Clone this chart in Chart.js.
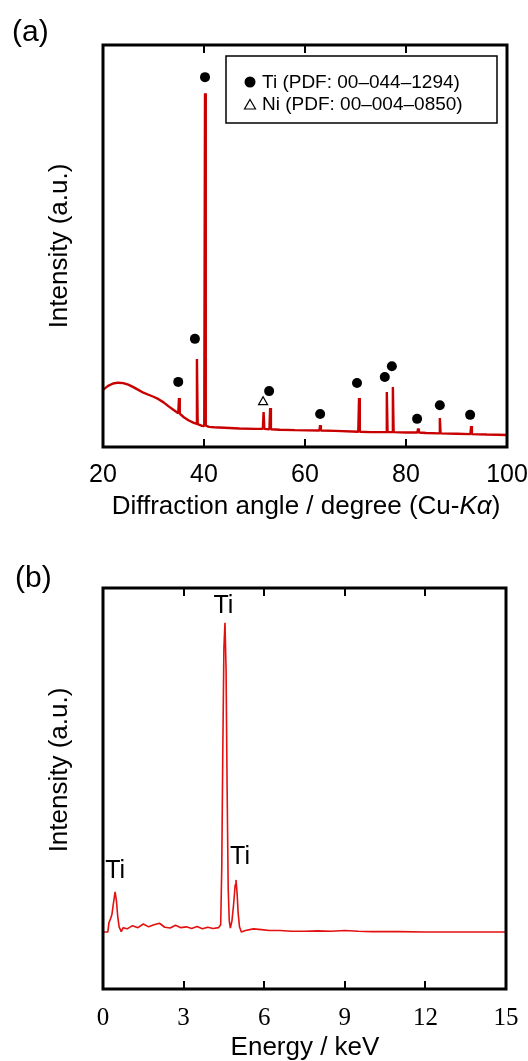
<!DOCTYPE html>
<html>
<head>
<meta charset="utf-8">
<script src="https://cdn.jsdelivr.net/npm/chart.js@4.4.0/dist/chart.umd.min.js"></script>
<style>
    html, body { margin: 0; padding: 0; background: #fff; }
    #wrap { position: relative; width: 528px; height: 1061px; }
    canvas { position: absolute; left: 0; }
    #xrd { top: 0; }
    #eds { top: 540px; }
</style>
</head>
<body>
<div id="wrap">
    <canvas id="xrd" width="528" height="540"></canvas>
    <canvas id="eds" width="528" height="521"></canvas>
</div>
<script>
// (a) XRD 数据
const xrdAngle = [20.0, 21.0, 22.0, 23.0, 24.0, 25.0, 26.0, 27.0, 28.0, 29.0, 30.0, 31.0, 32.0, 33.0, 34.0,
    34.9, 35.05, 35.2, 36.0, 37.0, 38.0, 38.45, 38.6, 38.75, 39.5, 40.05, 40.2, 40.35, 41.0, 42.0, 44.0,
    47.0, 50.0, 51.65, 51.8, 51.95, 52.95, 53.1, 53.25, 55.0, 58.0, 62.85, 63.0, 63.15, 66.0, 70.55, 70.7,
    70.85, 73.0, 76.05, 76.2, 76.35, 77.25, 77.4, 77.55, 80.0, 82.25, 82.4, 82.55, 84.0, 86.55, 86.7, 86.85,
    90.0, 92.75, 92.9, 93.05, 96.0, 100.0];
const xrdIntensity = [14.2, 15.2, 15.8, 16.0, 15.9, 15.5, 14.9, 14.2, 13.5, 13.0, 12.5, 11.9, 11.1, 10.1, 9.2,
    8.4, 12.2, 8.3, 7.4, 6.6, 6.0, 5.8, 21.9, 5.7, 5.3, 5.2, 88.0, 5.3, 5.0, 4.9, 4.8,
    4.6, 4.5, 4.5, 8.7, 4.5, 4.4, 9.7, 4.4, 4.3, 4.2, 4.1, 5.4, 4.1, 4.0, 3.8, 12.2,
    3.8, 3.7, 3.7, 13.7, 3.7, 3.7, 14.9, 3.7, 3.6, 3.6, 4.6, 3.6, 3.5, 3.4, 7.2, 3.4,
    3.3, 3.2, 5.2, 3.2, 3.1, 3.0];
const tiMarkAngle = [34.9, 38.2, 40.2, 52.9, 63.0, 70.3, 75.8, 77.2, 82.2, 86.7, 92.7];
const tiMarkLevel = [16.2, 26.9, 92.0, 13.9, 8.2, 15.9, 17.4, 20.1, 7.0, 10.4, 8.0];
const niMarkAngle = [51.7];
const niMarkLevel = [11.2];
const xrdTicks = [20, 40, 60, 80, 100];
const xrdLegend = ['Ti (PDF: 00–044–1294)', 'Ni (PDF: 00–004–0850)'];

// (b) EDS 数据
const edsEnergy = [0.0, 0.18, 0.22, 0.28, 0.33, 0.38, 0.45, 0.50, 0.55, 0.60, 0.68, 0.75, 0.9, 1.1, 1.3, 1.5,
    1.7, 1.9, 2.1, 2.3, 2.5, 2.7, 2.9, 3.1, 3.3, 3.5, 3.7, 3.9, 4.1, 4.3, 4.38, 4.42, 4.46, 4.50, 4.54,
    4.58, 4.62, 4.66, 4.70, 4.74, 4.80, 4.86, 4.92, 4.95, 4.99, 5.03, 5.08, 5.15, 5.3, 5.6, 5.9, 6.2,
    6.6, 7.0, 7.5, 8.0, 8.5, 9.0, 9.5, 10.0, 11.0, 12.0, 13.0, 14.0, 15.0];
const edsCounts = [14.2, 14.2, 16.5, 17.5, 18.5, 21.0, 24.2, 22.0, 18.0, 15.5, 14.3, 15.3, 15.0, 15.8, 15.3, 16.2,
    15.5, 16.0, 16.4, 15.4, 15.2, 15.9, 15.3, 15.5, 15.1, 15.6, 15.0, 15.4, 15.1, 15.3, 16.0, 30.0, 60.0, 85.0, 91.3,
    80.0, 50.0, 25.0, 17.0, 15.2, 17.0, 21.0, 26.0, 27.2, 24.0, 19.0, 15.5, 14.2, 14.6, 15.0, 14.8, 14.6,
    14.6, 14.4, 14.4, 14.5, 14.4, 14.6, 14.4, 14.3, 14.3, 14.2, 14.2, 14.2, 14.2];
const edsTicks = [0, 3, 6, 9, 12, 15];
const edsPeakNames = ['Ti', 'Ti', 'Ti'];
const edsPeakEnergy = [0.45, 4.48, 5.10];
const edsPeakLevel = [27.7, 93.8, 31.2];

const SANS = '"Liberation Sans", Arial, Helvetica, sans-serif';
const SERIF = '"Liberation Serif", "Times New Roman", serif';

// 边框、内向刻度、标题、图例、峰标注
const panelDecor = {
    id: 'panelDecor',
    afterDatasetsDraw(chart, args, opts) {
        const { ctx, chartArea: a, scales: { x, y } } = chart;
        ctx.save();
        ctx.strokeStyle = '#000';
        ctx.fillStyle = '#000';

        ctx.lineWidth = 3;
        ctx.strokeRect(a.left, a.top, a.right - a.left, a.bottom - a.top);

        ctx.lineWidth = 2;
        opts.innerTicks.forEach(v => {
            const px = Math.round(x.getPixelForValue(v));
            ctx.beginPath();
            ctx.moveTo(px, a.bottom);
            ctx.lineTo(px, a.bottom - 8);
            ctx.moveTo(px, a.top);
            ctx.lineTo(px, a.top + 8);
            ctx.stroke();
        });

        // 面板标记
        ctx.textBaseline = 'alphabetic';
        ctx.textAlign = 'left';
        ctx.font = '30px ' + SANS;
        ctx.fillText(opts.tag, opts.tagX, opts.tagY);

        // x 轴标题（可含斜体片段）
        let total = 0;
        opts.xTitle.forEach(([txt, it]) => {
            ctx.font = (it ? 'italic ' : '') + '26px ' + SANS;
            total += ctx.measureText(txt).width;
        });
        let cx = opts.xTitleX - total / 2;
        opts.xTitle.forEach(([txt, it]) => {
            ctx.font = (it ? 'italic ' : '') + '26px ' + SANS;
            ctx.fillText(txt, cx, opts.xTitleY);
            cx += ctx.measureText(txt).width;
        });

        // y 轴标题
        ctx.save();
        ctx.font = '26px ' + SANS;
        ctx.textAlign = 'center';
        ctx.translate(opts.yTitleX, opts.yTitleY);
        ctx.rotate(-Math.PI / 2);
        ctx.fillText(opts.yTitle, 0, 0);
        ctx.restore();

        // 图例
        if (opts.legend) {
            const L = opts.legend;
            ctx.lineWidth = 1.5;
            ctx.strokeRect(L.left, L.top, L.right - L.left, L.bottom - L.top);
            ctx.font = '19px ' + SANS;
            ctx.textAlign = 'left';
            L.labels.forEach((txt, i) => {
                const sy = L.symbolY[i];
                ctx.beginPath();
                if (i === 0) {
                    ctx.arc(L.symbolX, sy, 5.5, 0, Math.PI * 2);
                    ctx.fill();
                } else {
                    ctx.lineWidth = 1.2;
                    ctx.moveTo(L.symbolX, sy - 5);
                    ctx.lineTo(L.symbolX + 5.5, sy + 4.5);
                    ctx.lineTo(L.symbolX - 5.5, sy + 4.5);
                    ctx.closePath();
                    ctx.stroke();
                }
                ctx.fillText(txt, L.textX, L.textY[i]);
            });
        }

        // 峰标注
        if (opts.peaks) {
            ctx.font = '25px ' + SANS;
            ctx.textAlign = 'center';
            opts.peaks.names.forEach((txt, i) => {
                ctx.fillText(txt, x.getPixelForValue(opts.peaks.at[i]), y.getPixelForValue(opts.peaks.level[i]));
            });
        }
        ctx.restore();
    }
};

function xAxis(min, max, ticks, font, pad, height) {
    return {
        type: 'linear',
        min: min,
        max: max,
        grid: { display: false },
        border: { display: false },
        ticks: { color: '#000', font: font, padding: pad, maxRotation: 0 },
        afterBuildTicks: s => { s.ticks = ticks.map(v => ({ value: v })); },
        afterFit: s => { s.height = height; s.paddingLeft = 0; s.paddingRight = 0; }
    };
}

function yAxis() {
    return { type: 'linear', display: false, min: 0, max: 100 };
}

// (a) XRD 图
new Chart(document.getElementById('xrd'), {
    type: 'scatter',
    data: {
        datasets: [
            {
                type: 'scatter',
                data: tiMarkAngle.map((v, i) => ({ x: v, y: tiMarkLevel[i] })),
                pointStyle: 'circle',
                pointRadius: 5,
                backgroundColor: '#000',
                borderColor: '#000',
                borderWidth: 0,
                order: 0
            },
            {
                type: 'scatter',
                data: niMarkAngle.map((v, i) => ({ x: v, y: niMarkLevel[i] })),
                pointStyle: 'triangle',
                pointRadius: 5.2,
                backgroundColor: '#fff',
                borderColor: '#000',
                borderWidth: 1.2,
                order: 1
            },
            {
                type: 'line',
                data: xrdAngle.map((v, i) => ({ x: v, y: xrdIntensity[i] })),
                borderColor: '#c80000',
                borderWidth: 2.4,
                borderJoinStyle: 'bevel',
                pointRadius: 0,
                tension: 0,
                order: 2
            }
        ]
    },
    options: {
        responsive: false,
        animation: false,
        layout: { padding: { left: 103, right: 21, top: 45, bottom: 0 } },
        plugins: {
            legend: { display: false },
            tooltip: { enabled: false },
            panelDecor: {
                tag: '(a)', tagX: 12, tagY: 41,
                innerTicks: [40, 60, 80],
                xTitle: [['Diffraction angle / degree (Cu-', false], ['Kα', true], [')', false]],
                xTitleX: 306, xTitleY: 514,
                yTitle: 'Intensity (a.u.)', yTitleX: 66.5, yTitleY: 246,
                legend: {
                    left: 226, top: 56, right: 497, bottom: 123,
                    labels: xrdLegend,
                    symbolX: 250, symbolY: [82, 104.5],
                    textX: 262, textY: [88, 110]
                }
            }
        },
        scales: {
            x: xAxis(20, 100, xrdTicks, { family: SANS, size: 25 }, 5, 93),
            y: yAxis()
        }
    },
    plugins: [panelDecor]
});

// (b) EDS 图
new Chart(document.getElementById('eds'), {
    type: 'line',
    data: {
        datasets: [{
            data: edsEnergy.map((v, i) => ({ x: v, y: edsCounts[i] })),
            borderColor: '#e31010',
            borderWidth: 1.6,
            borderJoinStyle: 'bevel',
            pointRadius: 0,
            tension: 0
        }]
    },
    options: {
        responsive: false,
        animation: false,
        layout: { padding: { left: 103, right: 22, top: 48, bottom: 0 } },
        plugins: {
            legend: { display: false },
            tooltip: { enabled: false },
            panelDecor: {
                tag: '(b)', tagX: 15, tagY: 47,
                innerTicks: [3, 6, 9, 12],
                xTitle: [['Energy / keV', false]],
                xTitleX: 305, xTitleY: 515,
                yTitle: 'Intensity (a.u.)', yTitleX: 66.5, yTitleY: 230,
                peaks: { names: edsPeakNames, at: edsPeakEnergy, level: edsPeakLevel }
            }
        },
        scales: {
            x: xAxis(0, 15, edsTicks, { family: SERIF, size: 25 }, 6, 72),
            y: yAxis()
        }
    },
    plugins: [panelDecor]
});
</script>
</body>
</html>
